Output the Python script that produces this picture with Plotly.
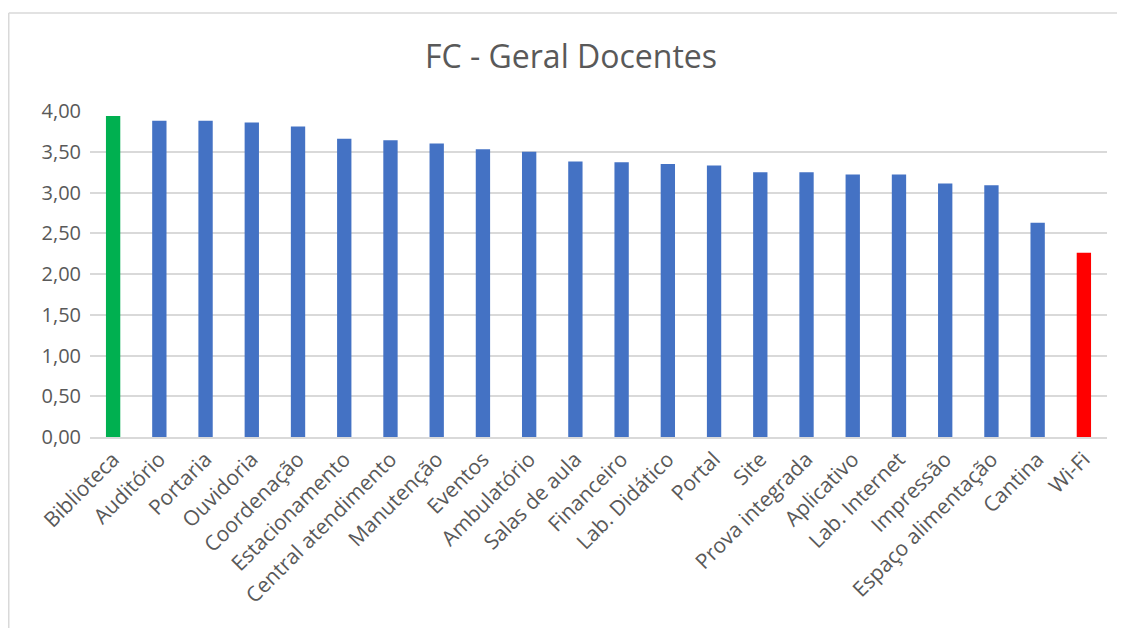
import plotly.graph_objects as go

categories = ["Biblioteca", "Auditório", "Portaria", "Ouvidoria", "Coordenação",
              "Estacionamento", "Central atendimento", "Manutenção", "Eventos",
              "Ambulatório", "Salas de aula", "Financeiro", "Lab. Didático", "Portal",
              "Site", "Prova integrada", "Aplicativo", "Lab. Internet", "Impressão",
              "Espaço alimentação", "Cantina", "Wi-Fi"]
values = [3.94, 3.88, 3.88, 3.86, 3.81, 3.66, 3.64, 3.60, 3.53, 3.50, 3.38, 3.37,
          3.35, 3.33, 3.25, 3.25, 3.22, 3.22, 3.11, 3.09, 2.63, 2.26]
tick_vals = [0, 0.5, 1, 1.5, 2, 2.5, 3, 3.5, 4]

BLUE, GREEN, RED = "#4472C4", "#00B050", "#FF0000"
colors = [BLUE] * len(values)
colors[values.index(max(values))] = GREEN
colors[values.index(min(values))] = RED

FONT = "Open Sans"
TXT = "#595959"
BORDER = "#D9D9D9"

fig = go.Figure(go.Bar(x=categories, y=values, marker=dict(color=colors, line=dict(width=0))))

# page has an 8px body margin, so figure coordinates = screen coordinates - 8
OFF = 8
W, H = 1125 - OFF, 628 - OFF
L, T = 90 - OFF, 111 - OFF
R = W - (1107 - OFF)
B = H - (437 - OFF)
pw, ph = W - L - R, H - T - B

def px_x(x):
    return (x - L) / pw

def px_y(y):
    return (H - B - y) / ph

fig.update_layout(
    width=W, height=H,
    margin=dict(l=L, r=R, t=T, b=B, autoexpand=False),
    paper_bgcolor="white", plot_bgcolor="white",
    separators=", ",
    bargap=0.69,
    showlegend=False,
    title=dict(text="FC - Geral Docentes", x=px_x(571 - OFF), xref="paper",
               xanchor="center", y=1 - (57 - OFF) / H, yanchor="middle",
               font=dict(family=FONT, size=32, color=TXT)),
    font=dict(family=FONT, color=TXT),
    xaxis=dict(tickangle=-45, tickfont=dict(family=FONT, size=21, color=TXT),
               showgrid=False, showline=True, linecolor=BORDER, linewidth=1.5,
               ticks="", automargin=False),
    yaxis=dict(range=[0, 4], tickvals=tick_vals, tickformat=".2f",
               tickfont=dict(family=FONT, size=20, color=TXT),
               showgrid=True, gridcolor=BORDER, gridwidth=1.5,
               zeroline=False, showline=False, ticks="", automargin=False,
               ticklabelstandoff=8),
    shapes=[
        dict(type="line", xref="paper", yref="paper",
             x0=px_x(0.75), x1=px_x(W + 20), y0=px_y(5), y1=px_y(5),
             line=dict(color=BORDER, width=1.5), layer="below"),
        dict(type="line", xref="paper", yref="paper",
             x0=px_x(0.75), x1=px_x(0.75), y0=px_y(5), y1=px_y(H + 20),
             line=dict(color=BORDER, width=1.5), layer="below"),
    ],
)

fig.write_html("out.html", config={"displayModeBar": False},
               post_script="document.documentElement.style.overflow='hidden';"
                           "document.body.style.overflow='hidden';")
